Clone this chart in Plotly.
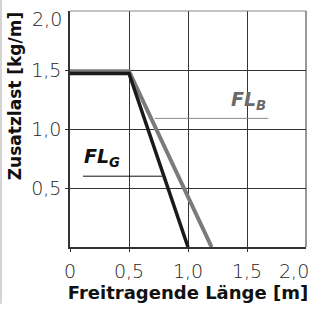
import plotly.graph_objects as go

# Data
x_ticks = [0, 0.5, 1.0, 1.5]
x_tick_labels = ["0", "0,5", "1,0", "1,5"]
x_edge_tick = 2.0
x_edge_label = "2,0"
y_ticks = [0.5, 1.0, 1.5]
y_tick_labels = ["0,5", "1,0", "1,5"]
y_edge_tick = 2.0
y_edge_label = "2,0"

fl_g_x = [0, 0.5, 1.0]
fl_g_y = [1.47, 1.47, 0]
fl_b_x = [0, 0.5, 1.2]
fl_b_y = [1.49, 1.49, 0]

label_g_line_x = [0.11, 0.78]
label_g_line_y = [0.60, 0.60]
label_b_line_x = [0.72, 1.68]
label_b_line_y = [1.09, 1.09]

TICKFONT = "DejaVu Sans, sans-serif"
BOLDFONT = "DejaVu Sans, sans-serif"
TICKCOLOR = "#222222"

fig = go.Figure()
fig.add_trace(go.Scatter(x=label_g_line_x, y=label_g_line_y, mode="lines",
                         line=dict(color="#111111", width=1), hoverinfo="skip"))
fig.add_trace(go.Scatter(x=label_b_line_x, y=label_b_line_y, mode="lines",
                         line=dict(color="#8a8a8a", width=1), hoverinfo="skip"))
fig.add_trace(go.Scatter(x=fl_b_x, y=fl_b_y, mode="lines",
                         line=dict(color="#7b7b7b", width=4), hoverinfo="skip"))
fig.add_trace(go.Scatter(x=fl_g_x, y=fl_g_y, mode="lines",
                         line=dict(color="#1a1a1a", width=3.5), hoverinfo="skip"))

fig.add_annotation(x=label_g_line_x[0], y=label_g_line_y[0], xref="x", yref="y",
                   xanchor="left", yanchor="bottom",
                   text="<b><i>FL<sub>G</sub></i></b>", showarrow=False, yshift=4, xshift=-1,
                   font=dict(family=BOLDFONT, size=19, color="#111111"))
fig.add_annotation(x=label_b_line_x[1], y=label_b_line_y[1], xref="x", yref="y",
                   xanchor="right", yanchor="bottom",
                   text="<i>FL<sub>B</sub></i>", showarrow=False, yshift=3,
                   font=dict(family=BOLDFONT, size=19, color="#6a6a6a", weight=600))

# edge tick labels (shifted inward like the reference)
fig.add_annotation(x=0, y=y_edge_tick, xref="paper", yref="y", xanchor="right", yanchor="middle",
                   text=y_edge_label, showarrow=False, xshift=-6, yshift=-8,
                   font=dict(family=TICKFONT, size=19, color=TICKCOLOR, weight=200))
fig.add_annotation(x=x_edge_tick, y=0, xref="x", yref="paper", xanchor="center", yanchor="top",
                   text=x_edge_label, showarrow=False, xshift=-12, yshift=-11,
                   font=dict(family=TICKFONT, size=19, color=TICKCOLOR, weight=200))

# y title as annotation
fig.add_annotation(x=-0.232, y=0.64, xref="paper", yref="paper", text="<b>Zusatzlast [kg/m]</b>",
                   textangle=-90, showarrow=False, xanchor="center", yanchor="middle",
                   font=dict(family=BOLDFONT, size=17, color="#111111"))

# borders / decorations
fig.add_shape(type="line", xref="paper", yref="paper", x0=0, x1=1, y0=1, y1=1,
              line=dict(color="#888888", width=1))
fig.add_shape(type="line", xref="paper", yref="paper", x0=1, x1=1, y0=0, y1=1,
              line=dict(color="#333333", width=1))
fig.add_shape(type="line", xref="x", yref="y", x0=2, x1=2, y0=0, y1=-0.025,
              line=dict(color="#333333", width=1))
fig.add_shape(type="line", xref="x", yref="y", x0=-0.03, x1=0, y0=0, y1=0,
              line=dict(color="#333333", width=2))
fig.add_shape(type="rect", xref="paper", yref="paper", x0=-0.297, x1=-0.288, y0=-0.24, y1=1.05,
              line=dict(width=0), fillcolor="#d4d4d4")

fig.update_layout(
    width=311, height=309,
    margin=dict(l=70, r=5, t=11, b=62),
    paper_bgcolor="white", plot_bgcolor="white",
    showlegend=False,
    xaxis=dict(range=[0, 2], tickvals=x_ticks, ticktext=x_tick_labels,
               showgrid=True, gridcolor="#333333", gridwidth=1, zeroline=False,
               showline=True, linecolor="#333333", linewidth=2,
               ticks="outside", ticklen=3, tickcolor="#333333",
               ticklabelstandoff=3,
               tickfont=dict(family=TICKFONT, size=19, color=TICKCOLOR, weight=200),
               title=dict(text="<b>Freitragende Länge [m]</b>", standoff=5,
                          font=dict(family=BOLDFONT, size=18, color="#111111")),
               automargin=False, fixedrange=True),
    yaxis=dict(range=[0, 2], tickvals=y_ticks, ticktext=y_tick_labels,
               showgrid=True, gridcolor="#333333", gridwidth=1, zeroline=False,
               showline=True, linecolor="#333333", linewidth=1.5,
               ticks="outside", ticklen=3, tickcolor="#333333",
               tickfont=dict(family=TICKFONT, size=19, color=TICKCOLOR, weight=200),
               automargin=False, fixedrange=True),
)

fig.write_html("out.html", config={"displayModeBar": False},
               post_script="document.body.style.margin='0px';")
